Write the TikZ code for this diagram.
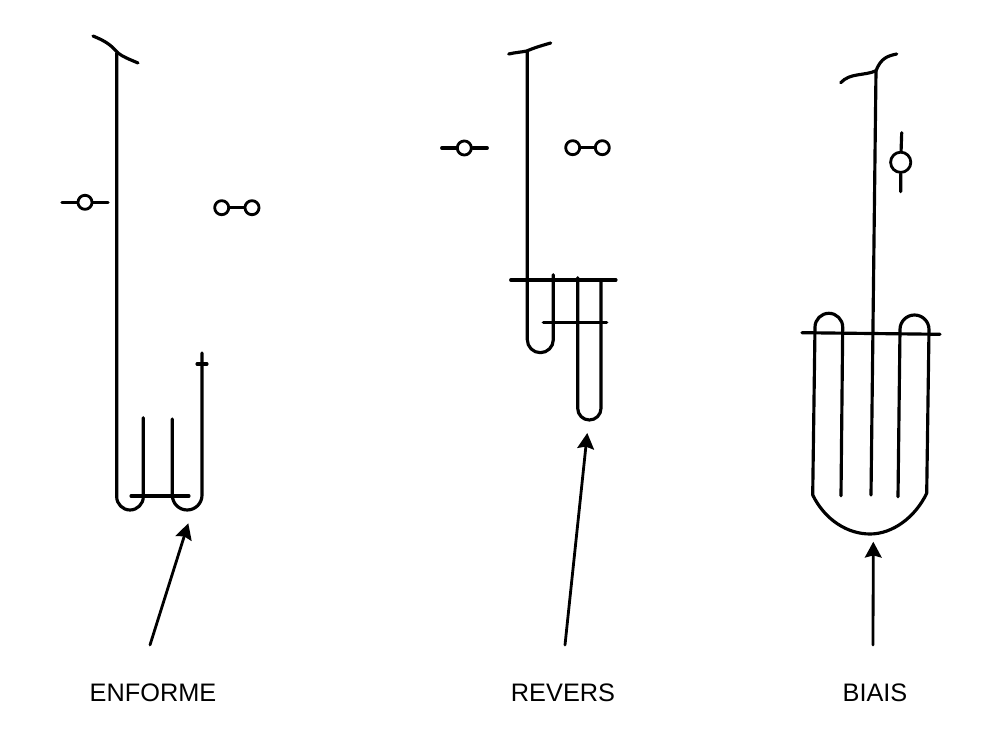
\documentclass[tikz,border=0pt]{standalone}
\usepackage{fontspec}
\setmainfont{Liberation Sans}
\usepackage{tikz}
\usetikzlibrary{arrows.meta}
\tikzset{
  every picture/.style={line join=round, line cap=round},
  yarn/.style={line width=1.8pt},
  pointer/.style={line width=1.6pt,-{Stealth[length=9pt,width=9.5pt,inset=1.2pt]}},
  ring/.style={circle,draw,line width=1.6pt,fill=white,inner sep=0pt,minimum size=8pt},
  bigring/.style={ring,minimum size=11.5pt},
  caption/.style={font=\fontsize{14.4}{17}\selectfont},
}

\begin{document}
\begin{tikzpicture}
\useasboundingbox (0,0) rectangle (20,14.6);
% enforme
\draw[yarn](1.860,13.880)..controls (2.100,13.780) and (2.200,13.720)..(2.360,13.540)..controls (2.460,13.460) and (2.600,13.410)..(2.760,13.340);
\draw[yarn](2.334,13.540)--(2.334,4.666) arc[start angle=180,end angle=360,radius=0.266]--(2.866,6.246);
\draw[yarn](3.446,6.220)--(3.446,4.697) arc[start angle=180,end angle=360,radius=0.297]--(4.040,7.540);
\draw[yarn](3.940,7.320)--(4.140,7.320);
\draw[yarn](2.620,4.680)--(3.780,4.680);
\coordinate (el) at (1.240,10.554);
\coordinate (er) at (2.160,10.554);
\node[ring] (ea) at (1.700,10.554) {};
\draw[yarn] (el)--(ea) (ea)--(er);
\node[ring] (eb) at (4.434,10.446) {};
\node[ring] (ec) at (5.040,10.446) {};
\draw[yarn] (eb)--(ec);
\node[caption] (enforme) at (3.060,0.740) {ENFORME};
\coordinate (etip) at (3.766,4.134);
\coordinate (etail) at (3.000,1.700);
\draw[pointer] (etail)--(etip);
% revers
\draw[yarn](10.174,13.520)..controls (10.300,13.550) and (10.450,13.560)..(10.534,13.580)..controls (10.650,13.630) and (10.800,13.680)..(11.014,13.740);
\draw[yarn](10.546,13.580)--(10.546,7.806) arc[start angle=180,end angle=360,radius=0.260]--(11.066,9.106);
\draw[yarn](11.554,9.046)--(11.554,6.433) arc[start angle=180,end angle=360,radius=0.233]--(12.020,9.000);
\draw[yarn](10.214,9.000)--(12.320,9.000);
\draw[yarn](10.866,8.146)--(12.134,8.146);
\coordinate (rl) at (8.834,11.640);
\coordinate (rr) at (9.746,11.640);
\node[ring] (ra) at (9.286,11.640) {};
\draw[yarn] (rl)--(ra) (ra)--(rr);
\node[ring] (rb) at (11.454,11.646) {};
\node[ring] (rc) at (12.046,11.646) {};
\draw[yarn] (rb)--(rc);
\node[caption] (revers) at (11.260,0.740) {REVERS};
\coordinate (rtip) at (11.746,5.940);
\coordinate (rtail) at (11.300,1.700);
\draw[pointer] (rtail)--(rtip);
% biais
\draw[yarn](16.814,12.946)..controls (17.000,13.150) and (17.300,13.080)..(17.520,13.186)..controls (17.620,13.440) and (17.750,13.480)..(17.934,13.520);
\draw[yarn](17.520,13.186)--(17.420,4.700);
\draw[yarn](16.820,4.686)--(16.854,8.057) arc[start angle=0,end angle=180,radius=0.277]--(16.254,4.700)
  ..controls (16.500,4.200) and (16.950,3.920)..(17.400,3.920)..controls (17.850,3.920) and (18.300,4.250)..(18.534,4.734)
  --(18.580,8.010) arc[start angle=0,end angle=180,radius=0.290]--(17.960,4.666);
\draw[yarn](16.040,7.946)--(18.800,7.914);
\coordinate (bt) at (18.034,11.946);
\coordinate (bb) at (18.014,10.766);
\node[bigring] (ba) at (18.014,11.354) {};
\draw[yarn] (bt)--(ba) (ba)--(bb);
\node[caption] (biais) at (17.500,0.740) {BIAIS};
\coordinate (btip) at (17.466,3.766);
\coordinate (btail) at (17.460,1.700);
\draw[pointer] (btail)--(btip);
\end{tikzpicture}
\end{document}
